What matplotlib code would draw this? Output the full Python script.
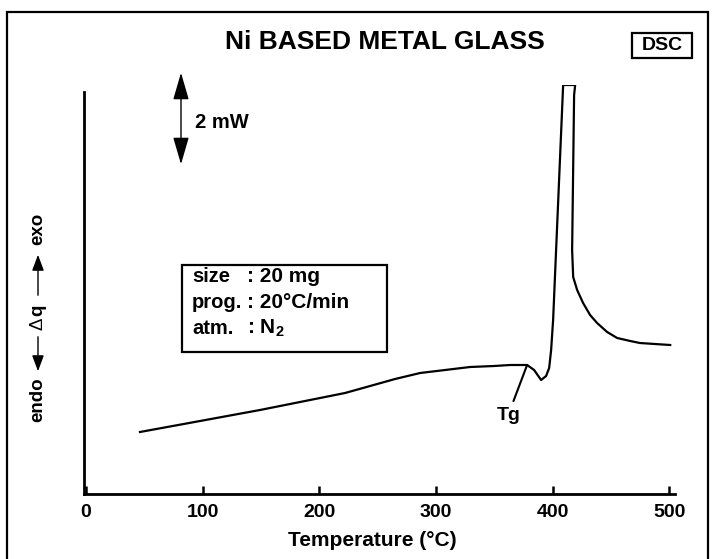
import matplotlib
matplotlib.use('Agg')
import matplotlib.pyplot as plt
from matplotlib.patches import Rectangle, FancyArrowPatch

# ---- data ----
temps = [46.3, 97.8, 149.2, 200.7, 222.1, 243.6, 265.0, 286.5, 307.9, 329.3,
         350.0, 363.6, 378.2, 384.2, 390.2, 394.5, 397.1, 398.8, 400.5, 409.1,
         419.4, 418.5, 416.8, 417.7, 421.1, 426.2, 432.2, 438.2, 446.8, 455.4,
         466.6, 474.9, 487.7, 500.9]
heat_flow = [62, 73, 84, 96, 101, 108, 115, 121, 124, 127,
             128, 129, 129, 124, 114, 118, 126, 144, 174, 409,
             409, 399, 244, 217, 204, 191, 179, 171, 162, 156,
             153, 151, 150, 149]
xticks = [0, 100, 200, 300, 400, 500]
title = "Ni BASED METAL GLASS"
xlabel = "Temperature (\u00b0C)"
info_keys = ["size", "prog.", "atm."]
info_vals = [": 20 mg", ": 20\u00b0C/min", ": N$_2$"]
tg_T, tg_y = 378.2, 129

plt.rcParams['font.family'] = ['Liberation Sans', 'DejaVu Sans']
plt.rcParams['mathtext.fontset'] = 'custom'
plt.rcParams['mathtext.rm'] = 'Liberation Sans:bold'
plt.rcParams['mathtext.it'] = 'Liberation Sans:bold'
plt.rcParams['mathtext.bf'] = 'Liberation Sans:bold'

W, H = 715, 559
fig = plt.figure(figsize=(W / 100, H / 100), dpi=100)


def fx(px):
    return px / W


def fy(py):
    return 1 - py / H


ax = fig.add_axes([fx(84), fy(494), fx(675) - fx(84), fy(85) - fy(494)])
ax.plot(temps, heat_flow, color='black', lw=1.6, solid_joinstyle='round')
ax.set_xlim(-1.7, 505)
ax.set_ylim(0, 409)
for s in ['top', 'right']:
    ax.spines[s].set_visible(False)
ax.spines['left'].set_bounds(0, 402)
ax.spines['left'].set_linewidth(2)
ax.spines['bottom'].set_linewidth(2)
ax.set_yticks([])
ax.set_xticks(xticks)
ax.set_xticklabels([str(t) for t in xticks], fontweight='bold', fontsize=14)
ax.tick_params(axis='x', direction='in', length=6, width=1.8, pad=7)
ax.set_xlabel(xlabel, fontweight='bold', fontsize=15)
ax.xaxis.set_label_coords((372 - 84) / (675 - 84), (494 - 541) / (494 - 85))
ax.xaxis.label.set_va('center')

# Tg annotation
ax.annotate('Tg', xy=(tg_T, tg_y), xytext=(362, 79), ha='center', va='center',
            fontsize=14, fontweight='bold',
            arrowprops=dict(arrowstyle='-', color='black', lw=1.5, shrinkA=2, shrinkB=0))

# outer frame
fig.patches.append(Rectangle((fx(7), fy(575)), fx(708) - fx(7), fy(12) - fy(575),
                             transform=fig.transFigure, fill=False, lw=1.6, ec='black'))

# title
fig.text(fx(385), fy(42), title, ha='center', va='center', fontsize=19, fontweight='bold')

# DSC box
fig.text(fx(662), fy(46), 'DSC', ha='center', va='center', fontsize=14, fontweight='bold')
fig.patches.append(Rectangle((fx(632), fy(58)), fx(692) - fx(632), fy(33) - fy(58),
                             transform=fig.transFigure, fill=False, lw=1.6, ec='black'))

# 2 mW scale arrow
fig.patches.append(FancyArrowPatch((fx(181), fy(167)), (fx(181), fy(70)),
                                   transform=fig.transFigure,
                                   arrowstyle='<|-|>,head_length=1.2,head_width=0.35',
                                   mutation_scale=14, lw=1, color='black'))
fig.text(fx(195), fy(123), '2 mW', ha='left', va='center', fontsize=14.5, fontweight='bold')

# info box
fig.patches.append(Rectangle((fx(182), fy(352)), fx(387) - fx(182), fy(265) - fy(352),
                             transform=fig.transFigure, fill=False, lw=1.6, ec='black'))
for i, (k, v) in enumerate(zip(info_keys, info_vals)):
    yy = [277, 302, 328][i]
    fig.text(fx(192), fy(yy), k, ha='left', va='center', fontsize=14.5, fontweight='bold')
    fig.text(fx(247), fy(yy), v, ha='left', va='center', fontsize=15, fontweight='bold')

# y label: endo <-- Δq --> exo
fig.text(fx(38), fy(229), 'exo', rotation=90, ha='center', va='center', fontsize=13.5, fontweight='bold')
fig.text(fx(38), fy(400), 'endo', rotation=90, ha='center', va='center', fontsize=13.5, fontweight='bold')
fig.text(fx(38), fy(310), 'q', rotation=90, ha='center', va='center', fontsize=13.5, fontweight='bold')
fig.text(fx(38), fy(324), '\u0394', rotation=90, ha='center', va='center', fontsize=13.5)
fig.patches.append(FancyArrowPatch((fx(38), fy(298)), (fx(38), fy(252)),
                                   transform=fig.transFigure,
                                   arrowstyle='-|>,head_length=0.8,head_width=0.3',
                                   mutation_scale=12, lw=1, color='black'))
fig.patches.append(FancyArrowPatch((fx(38), fy(334)), (fx(38), fy(374)),
                                   transform=fig.transFigure,
                                   arrowstyle='-|>,head_length=0.8,head_width=0.3',
                                   mutation_scale=12, lw=1, color='black'))

fig.savefig('out.png', dpi=100)
